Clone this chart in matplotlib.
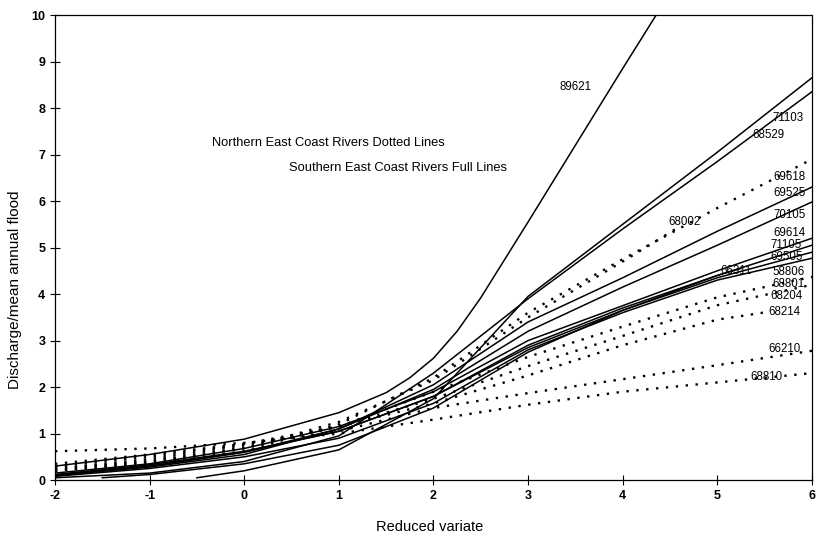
import matplotlib
matplotlib.use("Agg")
import matplotlib.pyplot as plt

plt.rcParams['font.family'] = ['Liberation Sans', 'DejaVu Sans']
plt.rcParams['axes.unicode_minus'] = False

# ---- data ----
# Southern East Coast rivers (full lines): (reduced variate, discharge/mean annual flood)
full_series = {
    "89621": ([-2, -1, 0, 1, 1.5, 1.75, 2, 2.25, 2.5, 3, 3.5, 4, 4.4],
              [0.3, 0.55, 0.88, 1.45, 1.88, 2.2, 2.62, 3.2, 3.92, 5.55, 7.2, 8.85, 10.15]),
    "71103": ([-0.5, 0, 1, 2, 2.5, 3, 4, 5, 6],
              [0.05, 0.2, 0.65, 1.75, 2.85, 3.95, 5.5, 7.05, 8.65]),
    "68529": ([-2, -1, 0, 1, 2, 3, 4, 5, 6],
              [0.05, 0.15, 0.4, 0.95, 2.3, 3.9, 5.4, 6.85, 8.35]),
    "69525": ([-2, -1, 0, 1, 2, 3, 4, 5, 6],
              [0.1, 0.28, 0.55, 1.1, 2.05, 3.4, 4.35, 5.35, 6.3]),
    "70105": ([-2, -1, 0, 1, 2, 3, 4, 5, 6],
              [0.1, 0.3, 0.6, 1.1, 1.95, 3.2, 4.15, 5.05, 5.98]),
    "69614": ([-2, -1, 0, 1, 2, 3, 4, 5, 6],
              [0.15, 0.35, 0.68, 1.15, 1.9, 3.0, 3.75, 4.5, 5.2]),
    "71105": ([-2, -1, 0, 1, 2, 3, 4, 5, 6],
              [0.1, 0.3, 0.6, 1.05, 1.8, 2.9, 3.7, 4.4, 5.05]),
    "69505": ([-2, -1, 0, 1, 2, 3, 4, 5, 6],
              [0.12, 0.33, 0.62, 1.05, 1.8, 2.85, 3.65, 4.35, 4.9]),
    "58806": ([-2, -1, 0, 1, 2, 3, 4, 5, 6],
              [0.08, 0.25, 0.5, 0.9, 1.65, 2.8, 3.6, 4.3, 4.77]),
    "66311": ([-1.5, -1, 0, 1, 2, 3, 4, 5, 5.25],
              [0.05, 0.12, 0.35, 0.75, 1.55, 2.75, 3.65, 4.4, 4.55]),
}

# Northern East Coast rivers (dotted lines)
dotted_series = {
    "69618": ([-2, -1, 0, 1, 2, 3, 4, 5, 6],
              [0.2, 0.35, 0.62, 1.2, 2.2, 3.6, 4.75, 5.85, 6.9]),
    "68002": ([-2, -1, 0, 1, 2, 3, 4, 4.6],
              [0.25, 0.4, 0.68, 1.25, 2.15, 3.5, 4.7, 5.45]),
    "68801": ([-2, -1, 0, 1, 2, 3, 4, 5, 6],
              [0.2, 0.4, 0.7, 1.15, 1.9, 2.65, 3.3, 3.93, 4.37]),
    "68204": ([-2, -1, 0, 1, 2, 3, 4, 5, 6],
              [0.25, 0.45, 0.75, 1.15, 1.75, 2.45, 3.1, 3.76, 4.2]),
    "68214": ([-2, -1, 0, 1, 2, 3, 4, 5, 5.55],
              [0.3, 0.5, 0.78, 1.15, 1.65, 2.25, 2.9, 3.45, 3.62]),
    "66210": ([-2, -1, 0, 1, 2, 3, 4, 5, 6],
              [0.35, 0.55, 0.78, 1.05, 1.55, 1.87, 2.17, 2.47, 2.78]),
    "68810": ([-2, -1, 0, 1, 2, 3, 4, 5, 6],
              [0.62, 0.68, 0.8, 1.0, 1.3, 1.62, 1.9, 2.1, 2.3]),
}

# station number labels (data coords of left edge)
label_pos = {
    "89621": (3.33, 8.45), "71103": (5.58, 7.78), "68529": (5.37, 7.42),
    "69618": (5.59, 6.52), "69525": (5.59, 6.17), "70105": (5.59, 5.70),
    "69614": (5.59, 5.31), "71105": (5.56, 5.05), "69505": (5.56, 4.79),
    "58806": (5.58, 4.48), "68801": (5.58, 4.22), "68204": (5.56, 3.96),
    "68214": (5.54, 3.61), "66210": (5.54, 2.82), "68810": (5.35, 2.22),
    "66311": (5.03, 4.50), "68002": (4.48, 5.55),
}

fig = plt.figure(figsize=(8.16, 5.37), dpi=100)
ax = fig.add_axes([0.0674, 0.106, 0.9276, 0.866])

for name, (xs, ys) in full_series.items():
    ax.plot(xs, ys, color='black', lw=1.1)
for name, (xs, ys) in dotted_series.items():
    ax.plot(xs, ys, color='black', lw=1.7, linestyle=(0, (1, 3.2)))

for name, (tx, ty) in label_pos.items():
    ax.text(tx, ty, name, fontsize=8.3, ha='left', va='center', color='black')

ax.text(-0.34, 7.25, "Northern East Coast Rivers Dotted Lines", fontsize=9.3,
        ha='left', va='center')
ax.text(0.47, 6.7, "Southern East Coast Rivers Full Lines", fontsize=9.3,
        ha='left', va='center')

ax.set_xlim(-2, 6)
ax.set_ylim(0, 10)
ax.set_xticks(range(-2, 7))
ax.set_yticks(range(0, 11))
ax.tick_params(direction='inout', length=7, width=0.8, labelsize=9)
for lab in ax.get_xticklabels() + ax.get_yticklabels():
    lab.set_fontweight('bold')
for sp in ax.spines.values():
    sp.set_linewidth(0.9)
ax.spines['right'].set_linestyle((0, (1, 1)))

ax.set_xlabel("Reduced variate", fontsize=10.5)
ax.set_ylabel("Discharge/mean annual flood", fontsize=11)
ax.xaxis.set_label_coords(0.495, -0.085)
ax.yaxis.set_label_coords(-0.044, 0.41)

fig.savefig("out.png", dpi=100)
